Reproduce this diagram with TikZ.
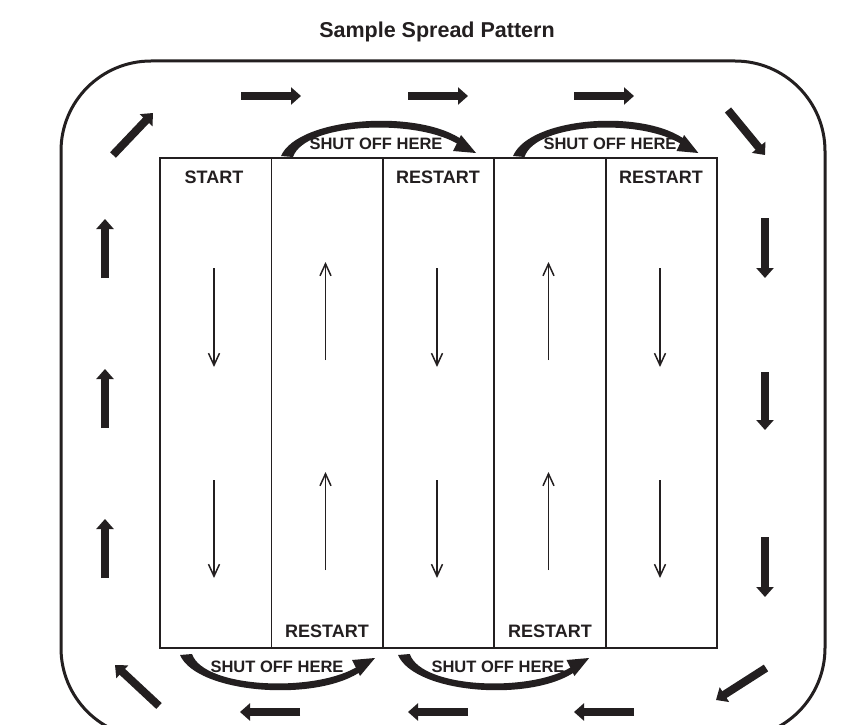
\documentclass[tikz,border=0pt]{standalone}
\usepackage{fontspec}
\setmainfont{Liberation Sans}
\usetikzlibrary{arrows.meta}
\definecolor{ink}{HTML}{231F20}
\begin{document}
\begin{tikzpicture}[x=1pt,y=-1pt,
  bigarrow/.style={ink,line width=8pt,-{Triangle[width=17pt,length=10pt]}},
  smallarrow/.style={ink,line width=1.5pt,-{Straight Barb[length=12pt,width=11pt]}},
  titletext/.style={ink,font=\bfseries\fontsize{21.5}{24}\selectfont,inner sep=0pt},
  lbl/.style={ink,font=\bfseries\fontsize{18}{20}\selectfont,inner sep=0pt},
  shut/.style={ink,font=\bfseries\fontsize{16.5}{18}\selectfont,inner sep=0pt},
  arcshape/.pic={
    \fill[ink] (-2,0) .. controls (15,-39) and (137,-48) .. (181,-15)
      -- (178,-10) .. controls (137,-38) and (22,-34) .. (10,1) -- cycle;
    \fill[ink] (178,-21) -- (193,-3) -- (170,-5) -- cycle;
  }]
\useasboundingbox (0,0) rectangle (847,725);
\fill[white] (0,0) rectangle (847,725);

% title
\node[titletext] (title) at (437,32) {Sample Spread Pattern};

% outer track
\draw[ink,line width=3pt,rounded corners=90pt] (61,61) rectangle (825,738);

% field grid
\draw[ink,line width=1.8pt] (160,158) rectangle (717,648);
\foreach \x in {271.4,382.8,494.2,605.6}
  \draw[ink,line width=1.8pt] (\x,158) -- (\x,648);

% labels
\node[lbl] (start) at (214,177) {START};
\node[lbl] (r1) at (438,177) {RESTART};
\node[lbl] (r2) at (661,177) {RESTART};
\node[lbl] (r3) at (327,631) {RESTART};
\node[lbl] (r4) at (550,631) {RESTART};

% thin pass arrows
\foreach \x in {214,437,660} {
  \draw[smallarrow] (\x,268) -- (\x,367);
  \draw[smallarrow] (\x,480) -- (\x,578);
}
\foreach \x in {325.5,548.5} {
  \draw[smallarrow] (\x,360) -- (\x,262);
  \draw[smallarrow] (\x,570) -- (\x,472);
}

% turn arrows
\pic at (283,156) {arcshape};
\pic[xscale=0.95] at (515,156) {arcshape};
\pic[yscale=-1] at (182,655) {arcshape};
\pic[yscale=-1,xscale=0.98] at (400,655) {arcshape};
\node[shut] (s1) at (376,144) {SHUT OFF HERE};
\node[shut] (s2) at (610,144) {SHUT OFF HERE};
\node[shut] (s3) at (277,667) {SHUT OFF HERE};
\node[shut] (s4) at (498,667) {SHUT OFF HERE};

% perimeter arrows
\foreach \y in {278,428,578}
  \draw[bigarrow] (105,\y) -- (105,\y-59);
\draw[bigarrow] (765,218) -- (765,278);
\draw[bigarrow] (765,372) -- (765,430);
\draw[bigarrow] (765,537) -- (765,597);
\foreach \x in {241,408,574}
  \draw[bigarrow] (\x,96) -- (\x+60,96);
\foreach \x in {300,468,634}
  \draw[bigarrow] (\x,712) -- (\x-60,712);
\draw[bigarrow] (113,155) -- (153,113);
\draw[bigarrow] (728,110) -- (765,155);
\draw[bigarrow] (159,706) -- (115,665);
\draw[bigarrow] (766,668) -- (716,700);
\end{tikzpicture}
\end{document}
